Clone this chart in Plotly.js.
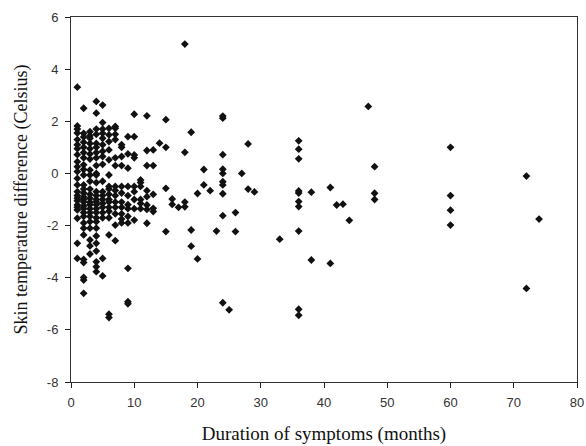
<!DOCTYPE html>
<html>
<head>
<meta charset="utf-8">
<script src="https://cdn.plot.ly/plotly-3.0.1.min.js"></script>
<style>html,body{margin:0;padding:0;background:#fff;}#chart{width:586px;height:446px;}</style>
</head>
<body>
<div id="chart"></div>
<script>
// Duration of symptoms (months)
const duration = [
  1,1,1,1,1,1,1,1,1,1,1,1,1,1,1,1,1,1,1,1,1,1,1,
  2,2,2,2,2,2,2,2,2,2,2,2,2,2,2,2,2,2,2,2,2,2,2,2,2,2,2,2,
  3,3,3,3,3,3,3,3,3,3,3,3,3,3,3,3,3,3,3,3,3,3,3,
  4,4,4,4,4,4,4,4,4,4,4,4,4,4,4,4,4,4,4,4,4,4,4,4,4,4,4,4,
  5,5,5,5,5,5,5,5,5,5,5,5,5,5,5,5,5,5,5,
  6,6,6,6,6,6,6,6,6,6,6,6,6,6,6,6,6,
  7,7,7,7,7,7,7,7,7,7,7,7,7,7,
  8,8,8,8,8,8,8,8,8,8,8,
  9,9,9,9,9,9,9,9,9,9,9,9,
  10,10,10,10,10,10,10,10,10,
  11,11,11,11,11,11,
  12,12,12,12,12,12,12,12,
  13,13,13,13,13,
  14,
  15,15,15,15,
  16,16,
  17,
  18,18,18,18,
  19,19,19,
  20,20,
  21,21,
  22,
  23,
  24,24,24,24,24,24,24,24,24,24,
  25,
  26,26,
  27,
  28,28,
  29,
  33,
  36,36,36,36,36,36,36,36,36,36,
  38,38,
  41,41,
  42,
  43,
  44,
  47,
  48,48,48,
  60,60,60,60,
  72,72,
  74
];
// Skin temperature difference (Celsius)
const tempDiff = [
  3.31,1.82,1.7,1.55,1.3,1.1,0.95,0.72,0.45,0.26,0.07,-0.19,-0.44,-0.7,-0.85,-0.95,-1.05,-1.21,-1.3,-1.4,-1.72,-2.68,-3.26,
  2.5,1.54,1.4,1.2,1.0,0.8,0.6,0.33,0.15,-0.06,-0.44,-0.6,-0.75,-0.9,-1.0,-1.1,-1.25,-1.35,-1.5,-1.65,-1.9,-2.1,-2.36,-3.3,-3.42,-3.99,-4.09,-4.6,
  1.6,1.45,1.35,1.15,0.95,0.75,0.55,0.13,-0.06,-0.3,-0.6,-0.8,-0.95,-1.1,-1.2,-1.35,-1.5,-1.65,-1.85,-2.1,-2.55,-2.78,-3.09,
  2.76,2.31,1.7,1.5,1.15,1.0,0.8,0.6,0.3,0.0,-0.06,-0.35,-0.7,-0.85,-1.0,-1.1,-1.2,-1.35,-1.5,-1.7,-1.85,-2.1,-2.4,-2.68,-2.98,-3.39,-3.58,-3.77,
  2.62,1.95,1.7,1.54,1.35,1.1,0.85,0.65,0.35,-0.3,-0.7,-0.85,-1.0,-1.15,-1.3,-1.5,-1.7,-3.26,-3.93,
  1.73,1.48,1.22,0.9,0.52,-0.06,-0.5,-0.6,-0.8,-1.0,-1.1,-1.3,-1.45,-1.7,-2.36,-5.4,-5.53,
  1.8,1.73,1.5,1.3,0.6,0.3,-0.5,-0.65,-0.85,-1.1,-1.3,-1.55,-1.98,-2.58,
  1.1,1.0,0.65,0.3,-0.5,-0.75,-1.1,-1.3,-1.55,-1.75,-1.9,
  1.41,0.75,0.2,-0.5,-0.85,-1.2,-1.35,-1.65,-1.9,-3.64,-4.92,-5.0,
  2.27,1.41,0.71,0.6,-0.5,-0.7,-1.0,-1.35,-1.79,
  -0.25,-0.35,-0.5,-1.0,-1.15,-1.35,
  2.21,0.88,0.3,-0.66,-0.89,-1.21,-1.38,-1.91,
  0.9,0.3,-0.8,-1.34,-1.46,
  1.16,
  2.06,1.0,-0.57,-2.23,
  -0.98,-1.19,
  -1.3,
  4.96,0.81,-1.1,-1.28,
  1.58,-2.17,-2.79,
  -0.77,-3.28,
  0.15,-0.44,
  -0.66,
  -2.21,
  2.12,2.2,0.72,0.16,0.0,-0.32,-0.44,-0.78,-1.62,-4.96,
  -5.23,
  -1.5,-2.23,
  0.0,
  1.13,-0.6,
  -0.71,
  -2.52,
  1.25,0.93,0.56,-0.67,-0.75,-1.08,-1.27,-2.21,-5.21,-5.44,
  -0.72,-3.32,
  -0.54,-3.45,
  -1.21,
  -1.18,
  -1.8,
  2.57,
  0.26,-0.76,-1.0,
  1.0,-0.85,-1.41,-1.98,
  -0.1,-4.41,
  -1.75
];
const xTickVals = [0,10,20,30,40,50,60,70,80];
const xTickText = ["0","10","20","30","40","50","60","70","80"];
const yTickVals = [-8,-6,-4,-2,0,2,4,6];
const yTickText = ["-8","-6","-4","-2","0","2","4","6"];

const trace = {
  x: duration, y: tempDiff, type: 'scatter', mode: 'markers',
  marker: {symbol: 'diamond', size: 6, color: '#111111', line: {width: 0}},
  hoverinfo: 'none'
};
const axisFont = {family: 'Liberation Sans, Arial, sans-serif', size: 13, color: '#333333'};
const xTitleFont = {family: 'Liberation Serif, Times New Roman, serif', size: 19, color: '#111111'};
const yTitleFont = {family: 'Liberation Serif, Times New Roman, serif', size: 18, color: '#111111'};
const layout = {
  width: 586, height: 446,
  margin: {l: 71, r: 9, t: 17, b: 64},
  paper_bgcolor: '#ffffff', plot_bgcolor: '#ffffff',
  showlegend: false,
  xaxis: {
    range: [0, 80], tickvals: xTickVals, ticktext: xTickText,
    ticks: 'outside', ticklen: 5, tickwidth: 1, tickcolor: '#222',
    showline: true, linecolor: '#333', linewidth: 1, mirror: true,
    showgrid: false, zeroline: false, tickfont: axisFont, ticklabelstandoff: 3,
    title: {text: 'Duration of symptoms (months)', font: xTitleFont, standoff: 18}
  },
  yaxis: {
    range: [-8, 6], tickvals: yTickVals, ticktext: yTickText,
    ticks: 'outside', ticklen: 5, tickwidth: 1, tickcolor: '#222',
    showline: true, linecolor: '#333', linewidth: 1, mirror: true,
    showgrid: false, zeroline: false, tickfont: axisFont, ticklabelstandoff: 4,
    title: {text: 'Skin temperature difference (Celsius)', font: yTitleFont, standoff: 14}
  }
};
Plotly.newPlot('chart', [trace], layout, {displayModeBar: false, staticPlot: true});
</script>
</body>
</html>
